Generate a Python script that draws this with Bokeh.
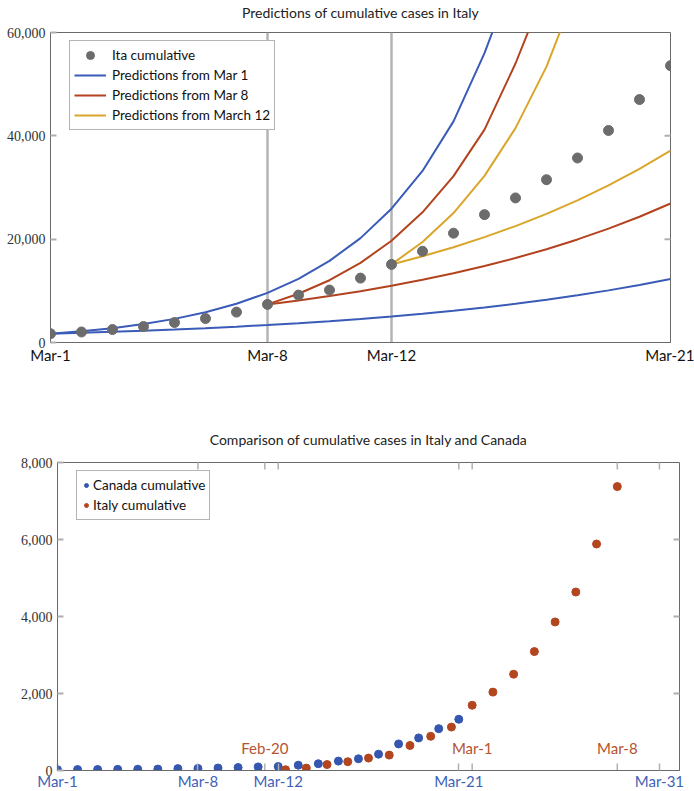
from bokeh.plotting import figure
from bokeh.models import (Range1d, FixedTicker, NumeralTickFormatter, Span,
                          Legend, LegendItem)
from bokeh.layouts import column
from bokeh.embed import file_html
from bokeh.resources import INLINE
from bokeh.core.properties import value

# ---------------- data: top chart (days since Mar-1) ----------------
top_days = list(range(21))
ita_cum = [1694, 2036, 2502, 3089, 3858, 4636, 5883, 7375, 9172, 10149, 12462,
           15113, 17660, 21157, 24747, 27980, 31506, 35713, 41035, 47021, 53578]

mar1_hi_days = list(range(0, 16))
mar1_hi = [1694, 2170, 2780, 3560, 4570, 5850, 7500, 9600, 12300, 15800, 20200,
           25900, 33200, 42800, 56000, 72000]
mar1_lo_days = list(range(0, 21))
mar1_lo = [1694, 1870, 2070, 2280, 2520, 2780, 3070, 3390, 3740, 4130, 4560,
           5040, 5570, 6150, 6790, 7490, 8270, 9140, 10090, 11140, 12300]

mar8_hi_days = list(range(7, 17))
mar8_hi = [7375, 9430, 12050, 15400, 19700, 25200, 32200, 41200, 54000, 69000]
mar8_lo_days = list(range(7, 21))
mar8_lo = [7375, 8150, 9000, 9940, 10980, 12130, 13400, 14800, 16350, 18060,
           19950, 22030, 24340, 26900]

mar12_hi_days = list(range(11, 18))
mar12_hi = [15113, 19450, 25050, 32250, 41500, 53400, 68800]
mar12_lo_days = list(range(11, 21))
mar12_lo = [15113, 16700, 18450, 20390, 22530, 24900, 27510, 30400, 33590, 37120]

top_ticks = [0, 7, 11, 20]
top_tick_labels = ["Mar-1", "Mar-8", "Mar-12", "Mar-21"]
top_yticks = [0, 20000, 40000, 60000]
top_xmax = 20
top_ymax = 60000

# ---------------- data: bottom chart ----------------
can_days = list(range(21))          # days since Mar-1
can_cum = [20, 24, 27, 30, 33, 37, 49, 54, 64, 77, 93, 103, 138, 176, 244, 304,
           424, 690, 846, 1087, 1331]
ita_days = list(range(1, 18))        # days since Feb-20
ita_cum2 = [20, 62, 155, 229, 322, 400, 650, 888, 1128, 1694, 2036, 2502, 3089,
            3858, 4636, 5883, 7375]

can_ticks = [0, 7, 11, 20, 30]
can_tick_labels = ["Mar-1", "Mar-8", "Mar-12", "Mar-21", "Mar-31"]
ita_ticks = [0, 10, 17]
ita_tick_labels = ["Feb-20", "Mar-1", "Mar-8"]
bot_yticks = [0, 2000, 4000, 6000, 8000]
bot_xmax = 31
bot_ymax = 8000

# ---------------- styles ----------------
BLUE = "#3a5cb8"
RED = "#b3431f"
YELLOW = "#daa62a"
GREY_DOT = "#6c6c6c"
CAN_C = "#3557b0"
ITA_C = "#b4461f"
FRAME = "#6a6a6a"
TICK = "#b0b0b0"
SANS = "Lato"
SERIF = "Liberation Serif"


def style_axes(p, xticks, xlabels, yticks, xlabel_color, xfont, xstandoff, xmax):
    p.xgrid.visible = False
    p.ygrid.visible = False
    p.outline_line_color = FRAME
    p.outline_line_width = 1
    xa = p.xaxis[0]
    xa.ticker = FixedTicker(ticks=xticks)
    xa.major_label_overrides = {t: l for t, l in zip(xticks, xlabels)}
    xa.major_label_text_font = SANS
    xa.major_label_text_font_size = xfont
    xa.major_label_text_color = xlabel_color
    xa.major_label_standoff = xstandoff
    xa.axis_line_color = FRAME
    xa.minor_tick_line_color = None
    ya = p.yaxis[0]
    ya.ticker = FixedTicker(ticks=yticks)
    ya.formatter = NumeralTickFormatter(format="0,0")
    ya.major_label_text_font = SERIF
    ya.major_label_text_font_size = "14px"
    ya.major_label_text_color = "#333333"
    ya.major_label_standoff = 5
    ya.axis_line_color = FRAME
    ya.major_tick_in = 6
    ya.major_tick_out = 0
    ya.major_tick_line_color = TICK
    ya.major_tick_line_width = 2
    ya.minor_tick_line_color = None
    # mirrored inward ticks on the right edge (half of each dash is clipped)
    inner = yticks[1:-1]
    p.scatter(x=[xmax] * len(inner), y=inner, marker="dash", size=12,
              line_color=TICK, line_width=2)


# ================= top chart =================
p1 = figure(width=694, height=383, output_backend="svg", toolbar_location=None,
            x_range=Range1d(0, top_xmax), y_range=Range1d(0, top_ymax),
            min_border_left=50, min_border_right=24, min_border_top=10,
            min_border_bottom=30, title="Predictions of cumulative cases in Italy")
p1.frame_align = False
p1.title.align = "center"
p1.title.text_font = SANS
p1.title.text_font_size = "14px"
p1.title.text_font_style = "normal"
p1.title.text_color = "#222222"
p1.title.standoff = 24
style_axes(p1, top_ticks, top_tick_labels, top_yticks, "#111111", "15px", 3, top_xmax)
p1.xaxis[0].major_tick_in = 0
p1.xaxis[0].major_tick_out = 0

for xv in top_ticks[1:3]:
    p1.add_layout(Span(location=xv, dimension="height", line_color="#b4b4b4",
                       line_width=2.5, level="underlay"))

lw = 2
r_b1 = p1.line(mar1_hi_days, mar1_hi, line_color=BLUE, line_width=lw)
r_b2 = p1.line(mar1_lo_days, mar1_lo, line_color=BLUE, line_width=lw)
r_r1 = p1.line(mar8_hi_days, mar8_hi, line_color=RED, line_width=lw)
r_r2 = p1.line(mar8_lo_days, mar8_lo, line_color=RED, line_width=lw)
r_y1 = p1.line(mar12_hi_days, mar12_hi, line_color=YELLOW, line_width=lw)
r_y2 = p1.line(mar12_lo_days, mar12_lo, line_color=YELLOW, line_width=lw)
r_ita = p1.scatter(top_days, ita_cum, size=10, color=GREY_DOT)

leg1 = Legend(items=[LegendItem(label="Ita cumulative", renderers=[r_ita]),
                     LegendItem(label="Predictions from Mar 1", renderers=[r_b1]),
                     LegendItem(label="Predictions from Mar 8", renderers=[r_r1]),
                     LegendItem(label="Predictions from March 12", renderers=[r_y1])],
              location=(19, 212), glyph_width=32, glyph_height=20, label_height=20,
              spacing=0, padding=4, label_standoff=6, margin=0,
              label_text_font=SANS, label_text_font_size="13.5px",
              label_text_color="#111111", border_line_color=FRAME,
              border_line_width=1, background_fill_alpha=1)
p1.add_layout(leg1, "center")

# ================= bottom chart =================
p2 = figure(width=694, height=420, output_backend="svg", toolbar_location=None,
            x_range=Range1d(0, bot_xmax), y_range=Range1d(0, bot_ymax),
            min_border_left=57, min_border_right=15, min_border_top=90,
            min_border_bottom=19,
            title="Comparison of cumulative cases in Italy and Canada")
p2.frame_align = False
p2.extra_x_ranges = {"ita": Range1d(-10, 20)}
p2.title.align = "center"
p2.title.text_font = SANS
p2.title.text_font_size = "14px"
p2.title.text_font_style = "normal"
p2.title.text_color = "#222222"
p2.title.standoff = 30
style_axes(p2, can_ticks, can_tick_labels, bot_yticks, "#3f62b6", "15px", 1, bot_xmax)
xa2 = p2.xaxis[0]
xa2.major_tick_in = 7
xa2.major_tick_out = 0
xa2.major_tick_line_color = TICK
xa2.major_tick_line_width = 1.5

# mirrored inward ticks on the top edge (Canada axis) and Italy-axis ticks
p2.scatter(x=can_ticks[1:], y=[bot_ymax] * len(can_ticks[1:]), marker="dash",
           angle=1.5708, size=14, line_color=TICK, line_width=1.5)
p2.scatter(x=ita_ticks, y=[0] * len(ita_ticks), marker="dash", angle=1.5708,
           size=14, line_color=TICK, line_width=1.5, x_range_name="ita")
p2.scatter(x=ita_ticks, y=[bot_ymax] * len(ita_ticks), marker="dash", angle=1.5708,
           size=14, line_color=TICK, line_width=1.5, x_range_name="ita")
p2.text(x=ita_ticks, y=[0] * len(ita_ticks), text=ita_tick_labels,
        x_range_name="ita", y_offset=-14, text_align="center",
        text_baseline="bottom", text_font=value(SANS), text_font_size="15px",
        text_color="#b5532f")

r_can = p2.scatter(can_days, can_cum, size=8, color=CAN_C)
r_it2 = p2.scatter(ita_days, ita_cum2, size=8, color=ITA_C, x_range_name="ita")

leg2 = Legend(items=[LegendItem(label="Canada cumulative", renderers=[r_can]),
                     LegendItem(label="Italy cumulative", renderers=[r_it2])],
              location=(19, 250), glyph_width=10, glyph_height=20, label_height=20,
              spacing=0, padding=4, label_standoff=2, margin=0,
              label_text_font=SANS, label_text_font_size="13.5px",
              label_text_color="#111111", border_line_color=FRAME,
              border_line_width=1, background_fill_alpha=1)
p2.add_layout(leg2, "center")

layout = column(p1, p2, margin=(-11, 0, -10, 0))
open("out.html", "w").write(file_html(layout, INLINE))
